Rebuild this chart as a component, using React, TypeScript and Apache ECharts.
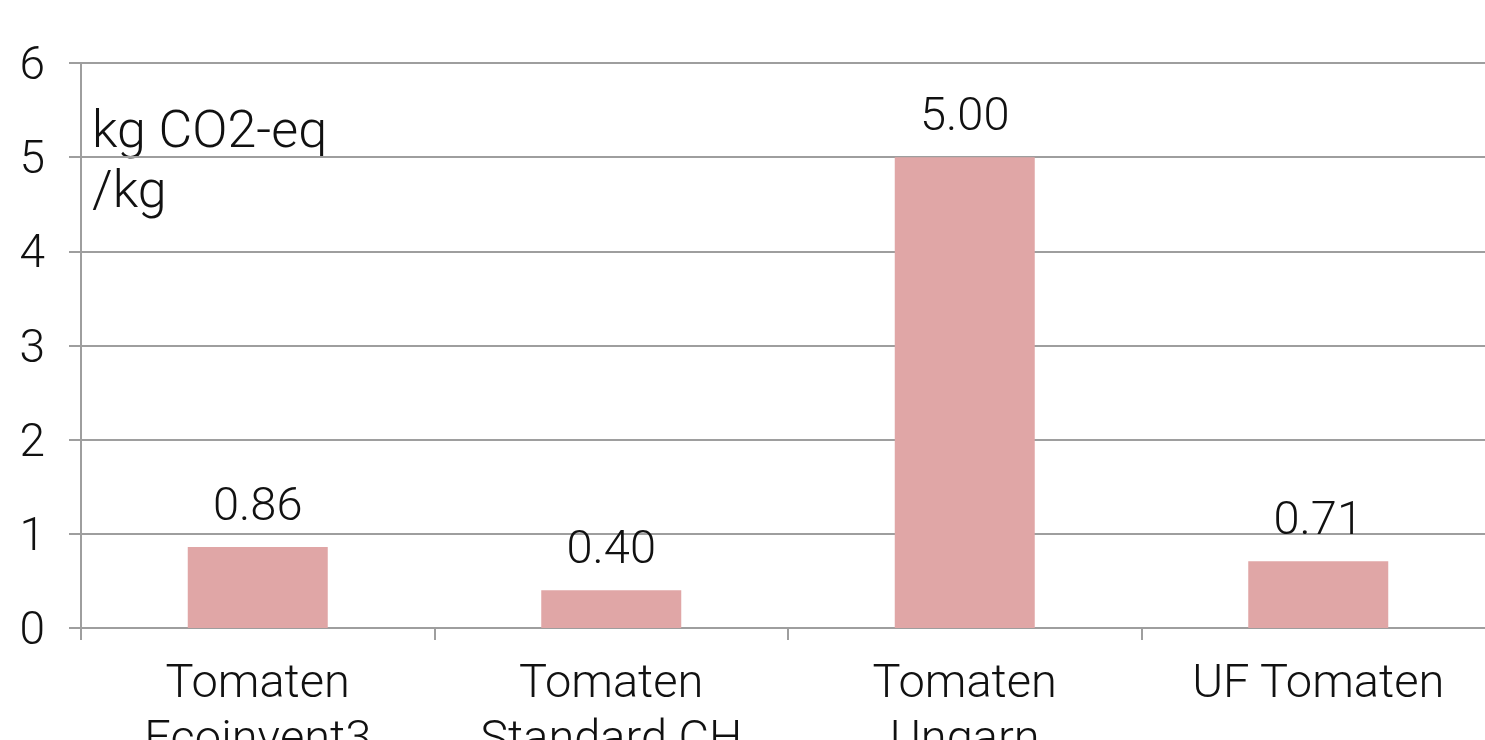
import React, { useEffect, useRef } from "react";
import * as echarts from "echarts";

const categories = ["Tomaten\nEcoinvent3", "Tomaten\nStandard CH", "Tomaten\nUngarn", "UF Tomaten"];
const values = [0.86, 0.4, 5.0, 0.71];
const unitLabel = "kg CO2-eq\n/kg";

const FONT = "Roboto, 'Liberation Sans', sans-serif";

export default function App() {
  const ref = useRef<HTMLDivElement>(null);
  useEffect(() => {
    if (!ref.current) return;
    const chart = echarts.init(ref.current, null, { renderer: "svg" });
    chart.setOption({
      animation: false,
      textStyle: { fontFamily: FONT, fontWeight: 300 },
      grid: {
        left: 81,
        top: 63,
        bottom: 112,
        right: -10,
        containLabel: false,
        outerBoundsMode: "none",
      },
      xAxis: {
        type: "category",
        data: categories,
        axisLine: { lineStyle: { color: "#9e9e9e", width: 2 } },
        axisTick: { show: true, length: 12, lineStyle: { color: "#9e9e9e", width: 2 } },
        axisLabel: {
          color: "#111",
          fontSize: 47,
          fontFamily: FONT,
          fontWeight: 300,
          lineHeight: 56,
          margin: 24,
          interval: 0,
        },
      },
      yAxis: {
        type: "value",
        min: 0,
        max: 6,
        interval: 1,
        axisLine: { show: true, lineStyle: { color: "#9e9e9e", width: 2 } },
        axisTick: { show: true, length: 12, lineStyle: { color: "#9e9e9e", width: 2 } },
        splitLine: { show: true, lineStyle: { color: "#9e9e9e", width: 2 } },
        axisLabel: {
          color: "#111",
          fontSize: 46,
          fontFamily: FONT,
          fontWeight: 300,
          margin: 36,
        },
      },
      graphic: [
        {
          type: "text",
          left: 92,
          top: 99,
          style: {
            text: unitLabel,
            fontSize: 52,
            fontFamily: FONT,
            fontWeight: 300,
            lineHeight: 60,
            fill: "#111",
          },
        },
      ],
      series: [
        {
          type: "bar",
          data: values,
          barWidth: 140,
          itemStyle: { color: "#e0a6a6" },
          label: {
            show: true,
            position: "top",
            distance: 20,
            fontSize: 47,
            fontFamily: FONT,
            fontWeight: 300,
            color: "#111",
            formatter: (p: any) => Number(p.value).toFixed(2),
          },
        },
      ],
    });
    return () => chart.dispose();
  }, []);
  return (
    <div
      ref={ref}
      style={{ position: "fixed", left: 0, top: 0, width: 1485, height: 740, overflow: "hidden" }}
    />
  );
}
